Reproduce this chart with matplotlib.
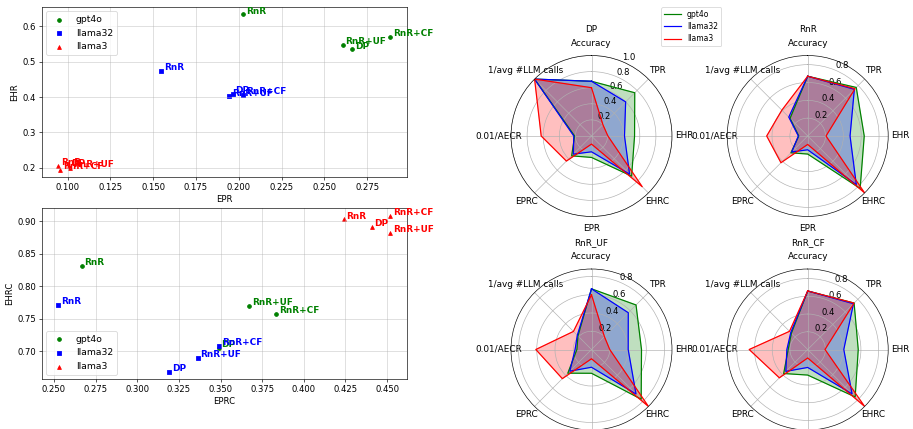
import numpy as np
import matplotlib.pyplot as plt

# methodes et modeles
methods = ['DP', 'RnR', 'RnR+UF', 'RnR+CF']
radar_titles = ['DP', 'RnR', 'RnR_UF', 'RnR_CF']
models = ['gpt4o', 'llama32', 'llama3']
colors = ['green', 'blue', 'red']
markers = ['o', 's', '^']
radar_labels = ['Accuracy', 'TPR', 'EHR', 'EHRC', 'EPR', 'EPRC', '0.01/AECR', '1/avg #LLM calls']

# valeurs par modele, dans l'ordre DP, RnR, RnR+UF, RnR+CF
gpt4o_epr = [0.2664, 0.2026, 0.2606, 0.2884]
gpt4o_ehr = [0.535, 0.634, 0.548, 0.570]
gpt4o_eprc = [0.3488, 0.2666, 0.3672, 0.3833]
gpt4o_ehrc = [0.705, 0.8316, 0.770, 0.757]
gpt4o_acc = [0.68, 0.67, 0.665, 0.66]
gpt4o_tpr = [0.76, 0.77, 0.69, 0.74]
gpt4o_aecr = [0.21, 0.10, 0.16, 0.22]
gpt4o_calls = [1.0, 0.28, 0.21, 0.26]

llama32_epr = [0.1964, 0.1548, 0.1945, 0.2026]
llama32_ehr = [0.410, 0.475, 0.402, 0.407]
llama32_eprc = [0.3193, 0.2526, 0.3362, 0.3492]
llama32_ehrc = [0.669, 0.771, 0.690, 0.708]
llama32_acc = [0.68, 0.67, 0.665, 0.66]
llama32_tpr = [0.60, 0.74, 0.57, 0.73]
llama32_aecr = [0.22, 0.105, 0.18, 0.235]
llama32_calls = [1.0, 0.30, 0.22, 0.27]

llama3_epr = [0.1005, 0.0945, 0.1016, 0.0957]
llama3_ehr = [0.204, 0.2056, 0.200, 0.1950]
llama3_eprc = [0.4408, 0.424, 0.4518, 0.4518]
llama3_ehrc = [0.891, 0.9026, 0.882, 0.9077]
llama3_acc = [0.60, 0.67, 0.60, 0.66]
llama3_tpr = [0.20, 0.75, 0.20, 0.74]
llama3_aecr = [0.625, 0.46, 0.61, 0.66]
llama3_calls = [1.0, 0.41, 0.28, 0.29]

epr = [gpt4o_epr, llama32_epr, llama3_epr]
ehr = [gpt4o_ehr, llama32_ehr, llama3_ehr]
eprc = [gpt4o_eprc, llama32_eprc, llama3_eprc]
ehrc = [gpt4o_ehrc, llama32_ehrc, llama3_ehrc]
acc = [gpt4o_acc, llama32_acc, llama3_acc]
tpr = [gpt4o_tpr, llama32_tpr, llama3_tpr]
aecr = [gpt4o_aecr, llama32_aecr, llama3_aecr]
calls = [gpt4o_calls, llama32_calls, llama3_calls]

DPI = 58
fig = plt.figure(figsize=(913 / DPI, 429 / DPI), dpi=DPI)
W, H = 913, 429


def px_rect(left, top, w, h):
    return [left / W, 1 - (top + h) / H, w / W, h / H]


def scatter_panel(ax, xs, ys, xlabel, ylabel, legend_loc):
    for k, model in enumerate(models):
        ax.scatter(xs[k], ys[k], color=colors[k], marker=markers[k], s=22, label=model)
        for m, x, y in zip(methods, xs[k], ys[k]):
            ax.annotate(m, (x, y), xytext=(3.5, 1), textcoords='offset points',
                        color=colors[k], fontweight='bold', fontsize=11)
    ax.set_xlabel(xlabel, fontsize=10.5)
    ax.set_ylabel(ylabel, fontsize=10.5)
    ax.tick_params(labelsize=10.5)
    ax.grid(True, alpha=0.6)
    ax.legend(loc=legend_loc, fontsize=11.5)


# nuages de points
ax1 = fig.add_axes(px_rect(41.7, 6.7, 365, 170.6))
scatter_panel(ax1, epr, ehr, 'EPR', 'EHR', 'upper left')
ax2 = fig.add_axes(px_rect(41.7, 208.3, 365, 171))
scatter_panel(ax2, eprc, ehrc, 'EPRC', 'EHRC', 'lower left')

# radars
angles = np.linspace(0, 2 * np.pi, len(radar_labels), endpoint=False)
angles_c = np.concatenate([angles, angles[:1]])
centres = [(591.5, 136), (807.7, 136), (591.5, 349.5), (807.7, 349.5)]
R = 80.5

for i, (cx, cy) in enumerate(centres):
    ax = fig.add_axes(px_rect(cx - R, cy - R, 2 * R, 2 * R), projection='polar')
    ax.set_theta_offset(np.pi / 2)
    ax.set_theta_direction(-1)
    vmax = 0
    for k, model in enumerate(models):
        vals = [acc[k][i], tpr[k][i], ehr[k][i], ehrc[k][i],
                epr[k][i], eprc[k][i], aecr[k][i], calls[k][i]]
        vmax = max(vmax, max(vals))
        vals_c = vals + vals[:1]
        ax.plot(angles_c, vals_c, color=colors[k], linewidth=1.5, label=model)
        ax.fill(angles_c, vals_c, color=colors[k], alpha=0.25)
    ax.set_ylim(0, vmax)
    ax.set_yticks(np.arange(0.2, vmax + 0.001, 0.2))
    ax.set_xticks(angles)
    ax.set_xticklabels(radar_labels, fontsize=11)
    ax.tick_params(axis='x', pad=4.5)
    ax.tick_params(axis='y', labelsize=10.5)
    ax.text(0.5, 1 + 26 / (2 * R), radar_titles[i], transform=ax.transAxes,
            ha='center', va='center', fontsize=11)
    if i == 0:
        handles, labs = ax.get_legend_handles_labels()

fig.legend(handles, labs, loc='upper left', bbox_to_anchor=(661 / W, 1 - 7 / H),
           fontsize=9.5, borderaxespad=0, labelspacing=0.4, handlelength=2.2)

plt.savefig('out.png', dpi=DPI)
